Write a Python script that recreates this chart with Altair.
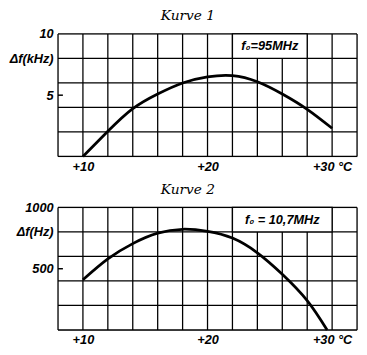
import altair as alt
import pandas as pd

# ---- data ----
grid_x = [8, 10, 12, 14, 16, 18, 20, 22, 24, 26, 28, 30, 32]
grid_y1 = [0, 2, 4, 6, 8, 10]
grid_y2 = [0, 200, 400, 600, 800, 1000]

temp1 = [10, 12, 14, 16, 18, 20, 22, 24, 26, 28, 30]
df1_vals = [0, 2.05, 3.9, 5.1, 6.0, 6.5, 6.6, 6.1, 5.1, 3.85, 2.3]

temp2 = [10, 12, 14, 16, 18, 20, 22, 24, 26, 28, 29.6]
df2_vals = [410, 580, 705, 790, 822, 805, 750, 630, 455, 240, 0]

x_ticks = [10, 20, 30]
y_ticks1 = [5, 8, 10]
y_ticks2 = [500, 800, 1000]

box1 = {"x": 22, "x2": 28, "y": 8, "y2": 10, "tx": 25, "ty": 9, "label": "f₀=95MHz"}
box2 = {"x": 22, "x2": 30, "y": 800, "y2": 1000, "tx": 26, "ty": 900, "label": "f₀ = 10,7MHz"}

LABEL_FONT = "Liberation Sans"
W = 305


def panel(title, temps, vals, gy, yticks, ymax, ylab, box, h):
    xs = alt.Scale(domain=[8, 32], nice=False, zero=False)
    ys = alt.Scale(domain=[0, ymax], nice=False, zero=True)
    xax = alt.Axis(values=x_ticks, title=None, grid=False, ticks=False, domain=False,
                   labelExpr="datum.value == 30 ? '+30   °C' : '+' + datum.label",
                   labelFont=LABEL_FONT, labelFontSize=13, labelFontStyle="italic",
                   labelFontWeight="bold", labelColor="black", labelPadding=4,
                   labelFlush=False)
    yax = alt.Axis(values=yticks, title=None, grid=False, ticks=False, domain=False,
                   format="d",
                   labelExpr=f"datum.value == {yticks[1]} ? '{ylab}' : datum.label",
                   labelFont=LABEL_FONT, labelFontSize=13, labelFontStyle="italic",
                   labelFontWeight="bold", labelColor="black", labelPadding=5,
                   labelFlush=False, minExtent=49, maxExtent=49)

    vgrid = alt.Chart(pd.DataFrame({"t": grid_x})).mark_rule(
        color="black", strokeWidth=1.3).encode(
        x=alt.X("t:Q", scale=xs, axis=xax))
    hgrid = alt.Chart(pd.DataFrame({"v": gy})).mark_rule(
        color="black", strokeWidth=1.3).encode(
        y=alt.Y("v:Q", scale=ys, axis=yax))
    boxdf = pd.DataFrame([box])
    rect = alt.Chart(boxdf).mark_rect(fill="white", stroke="black", strokeWidth=1.3).encode(
        x=alt.X("x:Q", scale=xs, axis=xax), x2="x2:Q",
        y=alt.Y("y:Q", scale=ys, axis=yax), y2="y2:Q")
    txt = alt.Chart(boxdf).mark_text(font=LABEL_FONT, fontSize=13, fontStyle="italic",
                                     fontWeight="bold", color="black").encode(
        x=alt.X("tx:Q", scale=xs, axis=xax),
        y=alt.Y("ty:Q", scale=ys, axis=yax),
        text="label:N")
    tick = alt.Chart(pd.DataFrame({"v": [yticks[0]]})).mark_rule(
        color="black", strokeWidth=1.5).encode(
        y=alt.Y("v:Q", scale=ys, axis=yax), x=alt.value(0), x2=alt.value(5))
    line = alt.Chart(pd.DataFrame({"t": temps, "d": vals})).mark_line(
        color="black", strokeWidth=2.8, interpolate="natural").encode(
        x=alt.X("t:Q", scale=xs, axis=xax),
        y=alt.Y("d:Q", scale=ys, axis=yax))
    return alt.layer(vgrid, hgrid, rect, txt, tick, line).properties(
        width=W, height=h,
        title=alt.TitleParams(title, font="DejaVu Serif", fontSize=14, fontStyle="italic",
                              fontWeight="normal", color="black", dx=-20, offset=5))


c1 = panel("Kurve 1", temp1, df1_vals, grid_y1, y_ticks1, 10, "Δf(kHz)", box1, 125)
c2 = panel("Kurve 2", temp2, df2_vals, grid_y2, y_ticks2, 1000, "Δf(Hz)", box2, 125)

chart = alt.vconcat(c1, c2, spacing=8).properties(
    padding={"top": -3, "left": 0, "right": 0, "bottom": 0}).configure_view(
    stroke="black", strokeWidth=2).configure(background="white")

chart.save("out.html", embed_options={"renderer": "svg", "actions": False})
